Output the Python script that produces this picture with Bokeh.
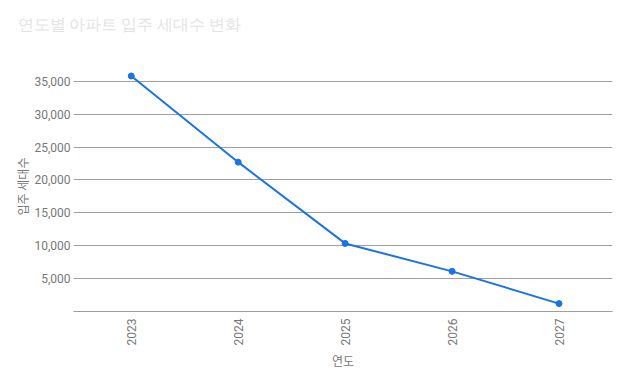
from bokeh.plotting import figure
from bokeh.models import FixedTicker, NumeralTickFormatter, Range1d, Title
from bokeh.embed import file_html
from bokeh.resources import INLINE
import math

years = [2023, 2024, 2025, 2026, 2027]
households = [35800, 22700, 10350, 6100, 1200]
y_ticks = [5000, 10000, 15000, 20000, 25000, 30000, 35000]

title = "연도별 아파트 입주 세대수 변화"
x_label = "연도"
y_label = "입주 세대수"

p = figure(width=628, height=380, output_backend="svg", toolbar_location=None,
           x_range=Range1d(2022.46, 2027.5), y_range=Range1d(0, 38000),
           min_border_left=73, min_border_right=16, min_border_top=61, min_border_bottom=69)

p.line(years, households, line_color="#1a73e8", line_width=2)
p.scatter(years, households, size=6, color="#1a73e8")

font = "Roboto"
kfont = "'Noto Sans CJK KR', sans-serif"

# spacer between title and frame
p.add_layout(Title(text=" ", text_font_size="2px", standoff=15), "above")
p.add_layout(Title(text=title, text_color="#e3e3e3", text_font=font,
                   text_font_size="16px", text_font_style="normal",
                   offset=-56, standoff=17), "above")

p.outline_line_color = None
p.xgrid.grid_line_color = None
p.ygrid.grid_line_color = "#9e9e9e"
p.ygrid.grid_line_width = 1

p.yaxis.ticker = FixedTicker(ticks=y_ticks)
p.yaxis.formatter = NumeralTickFormatter(format="0,0")
p.yaxis.axis_line_color = None
p.yaxis.major_tick_line_color = None
p.yaxis.minor_tick_line_color = None
p.yaxis.major_tick_out = 0
p.yaxis.minor_tick_out = 0
p.yaxis.major_label_text_color = "#777777"
p.yaxis.major_label_text_font = font
p.yaxis.major_label_text_font_size = "12px"
p.yaxis.axis_label = y_label
p.yaxis.axis_label_text_color = "#777777"
p.yaxis.axis_label_text_font = kfont
p.yaxis.axis_label_text_font_size = "12px"
p.yaxis.axis_label_text_font_style = "normal"
p.yaxis.major_label_standoff = 3
p.yaxis.axis_label_standoff = 0

p.xaxis.ticker = FixedTicker(ticks=years)
p.xaxis.axis_line_color = "#9e9e9e"
p.xaxis.major_tick_line_color = None
p.xaxis.minor_tick_line_color = None
p.xaxis.major_tick_out = 0
p.xaxis.minor_tick_out = 0
p.xaxis.major_label_orientation = math.pi / 2
p.xaxis.major_label_text_color = "#777777"
p.xaxis.major_label_text_font = font
p.xaxis.major_label_text_font_size = "12px"
p.xaxis.major_label_standoff = 7
p.xaxis.axis_label = x_label
p.xaxis.axis_label_text_color = "#777777"
p.xaxis.axis_label_text_font = kfont
p.xaxis.axis_label_text_font_size = "12px"
p.xaxis.axis_label_text_font_style = "normal"
p.xaxis.axis_label_standoff = 4

open("out.html", "w").write(file_html(p, INLINE))
